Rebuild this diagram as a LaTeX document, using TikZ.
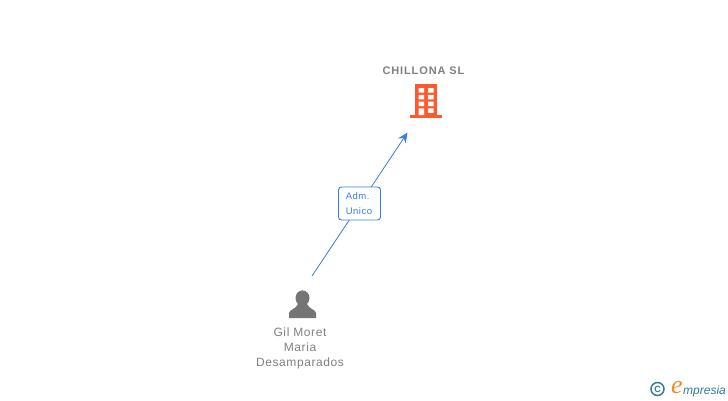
\documentclass[tikz,border=0pt]{standalone}
\usepackage{fontspec}
\usetikzlibrary{arrows.meta}
\setmainfont{Liberation Sans}
\newfontfamily\logofont{Liberation Serif}
\newfontfamily\widefont[LetterSpace=5]{Liberation Sans}
\newfontfamily\widerfont[LetterSpace=8]{Liberation Sans}
\definecolor{iconorange}{HTML}{FF5A2E}
\definecolor{persongrey}{HTML}{757575}
\definecolor{labelgrey}{HTML}{808080}
\definecolor{linkblue}{HTML}{3B7DE0}
\definecolor{logoteal}{HTML}{2F7C96}
\definecolor{logoorange}{HTML}{F08A1D}
\tikzset{
    company/.style={text=labelgrey, font=\widerfont\bfseries\fontsize{11}{13}\selectfont},
    person/.style={text=labelgrey, align=center, font=\widefont\fontsize{12}{15}\selectfont},
    rolebox/.style={draw=linkblue, fill=white, rounded corners=3pt, line width=0.9pt, text=linkblue,
        minimum width=42pt, minimum height=33pt, inner sep=0pt, align=left,
        font=\widefont\fontsize{9.5}{15}\selectfont},
    link/.style={draw=linkblue, line width=0.8pt, -{Stealth[length=10pt,width=9pt]}}
}
\begin{document}
\begin{tikzpicture}[x=1pt,y=-1pt]
    \useasboundingbox (0,0) rectangle (728,400);

    % Company
    \node[company] (chillona) at (423.5,70.5) {CHILLONA SL};

    % Building icon
    \fill[iconorange] (415,84) rectangle (437,116);
    \fill[iconorange] (410,115) rectangle (442,118);
    \fill[white] (418.7,88) rectangle +(5.5,4.5) (428,88) rectangle +(5.5,4.5);
    \fill[white] (418.7,94.8) rectangle +(5.5,4.5) (428,94.8) rectangle +(5.5,4.5);
    \fill[white] (418.7,101.5) rectangle +(5.5,4.5) (428,101.5) rectangle +(5.5,4.5);
    \fill[white] (418.7,108.3) rectangle (424.2,115) (428,108.3) rectangle +(5.5,4.5);

    % Person icon
    \fill[persongrey] (302.5,298) ellipse (7 and 7.6);
    \fill[persongrey] (289,318) -- (289,313) .. controls (289.5,309.5) and (296,309) .. (298,304)
        -- (307,304) .. controls (309,309) and (315.5,309.5) .. (316,313) -- (316,318) -- cycle;

    % Person name
    \node[person] (gil) at (300,348.3) {Gil Moret\\Maria\\Desamparados};

    % Link with role
    \coordinate (from) at (312,276);
    \coordinate (to) at (407.5,132.5);
    \draw[link] (from) -- (to);
    \node[rolebox] (adm) at (359.5,203.5) {\hspace*{7pt}Adm.\\\hspace*{7pt}Unico\hspace*{8pt}};

    % Logo
    \draw[logoteal, line width=1.5pt] (657.5,389) circle (6.5);
    \node[text=logoteal, inner sep=0pt, font=\bfseries\fontsize{9}{9}\selectfont] (copyr) at (657.5,389) {C};
    \node[text=logoorange, inner sep=0pt, font=\logofont\itshape\fontsize{26}{26}\selectfont] (logoe) at (677,387) {e};
    \node[text=logoteal, inner sep=0pt, anchor=base west, font=\itshape\fontsize{12}{15}\selectfont] (logotext) at (683,394) {mpresia};
\end{tikzpicture}
\end{document}
